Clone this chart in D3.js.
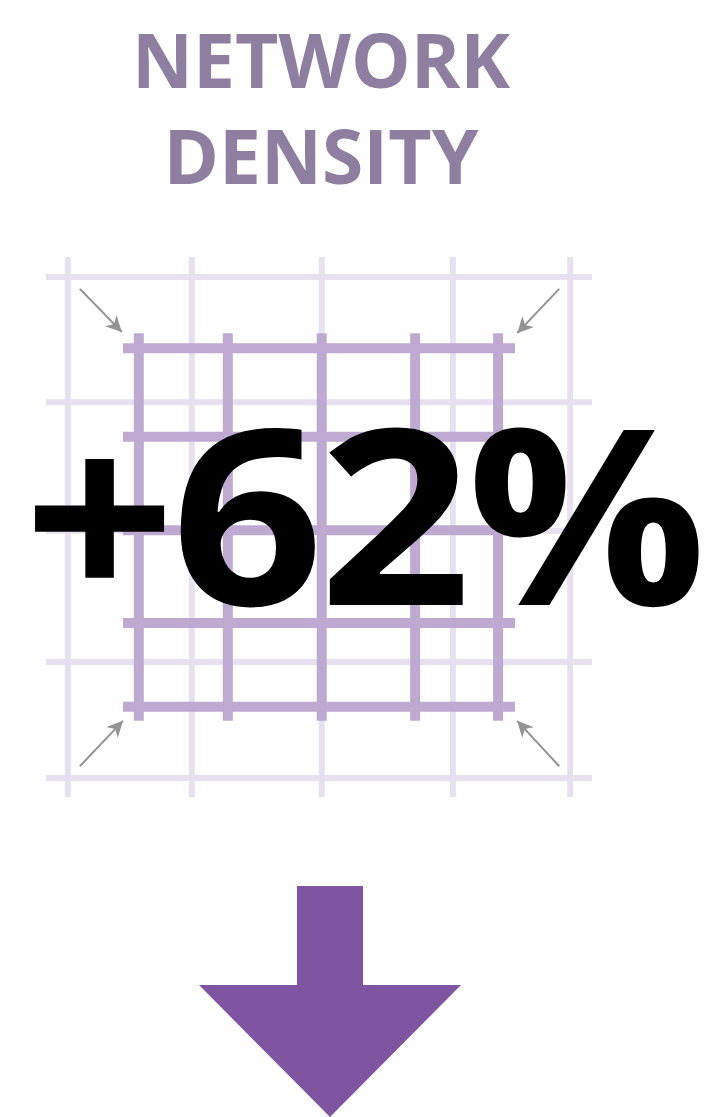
<!DOCTYPE html>
<html>
<head>
<meta charset="utf-8">
<script src="https://cdn.jsdelivr.net/npm/d3@7"></script>
<style>
  html, body { margin: 0; padding: 0; background: #fff; }
  svg { display: block; }
</style>
</head>
<body>
<script>
'use strict';

// title lines
const titleLines = ["NETWORK", "DENSITY"];
const bigLabel = "+62%";

// grid line positions, in grid units (0-100 across the panel)
const looseX = [4.0, 26.7, 50.5, 74.5, 96.0];
const looseY = [3.7, 26.9, 50.7, 75.0, 96.5];
const denseX = [17.0, 33.3, 50.5, 67.6, 82.8];
const denseY = [16.9, 33.3, 50.6, 67.8, 83.3];
const denseExtent = [14.1, 85.9];

// little "squeeze" arrows: [fromX, fromY, toX, toY] in grid units
const squeeze = [
  [6.2, 5.9, 13.9, 13.9],
  [94.0, 5.9, 86.3, 14.1],
  [6.2, 94.3, 14.1, 85.9],
  [94.0, 94.3, 86.3, 85.9]
];

(function() {
  const width = 712, height = 1117;

  const svg = d3.select('body')
    .append('svg')
    .attr('width', width)
    .attr('height', height);

  svg.append('defs').append('marker')
    .attr('id', 'head')
    .attr('viewBox', '0 0 10 10')
    .attr('refX', 10)
    .attr('refY', 5)
    .attr('markerWidth', 8)
    .attr('markerHeight', 8)
    .attr('markerUnits', 'strokeWidth')
    .attr('orient', 'auto')
    .append('path')
      .attr('d', 'M0,0 L10,5 L0,10 L3,5 Z')
      .attr('fill', '#939393');

  // title
  svg.append('g')
    .selectAll('text')
    .data(titleLines)
    .enter()
    .append('text')
      .attr('x', 321)
      .attr('y', (d, i) => 88 + i * 96)
      .attr('text-anchor', 'middle')
      .style('font-family', '"Open Sans", sans-serif')
      .style('font-weight', 700)
      .style('font-size', '75px')
      .style('fill', '#8e7fa0')
      .text(d => d);

  // grid scales
  const x = d3.scaleLinear().domain([0, 100]).range([46, 592]);
  const y = d3.scaleLinear().domain([0, 100]).range([257, 797]);

  // loose (light) grid
  const loose = svg.append('g')
    .attr('stroke', '#e6e0ef')
    .attr('stroke-width', 6);
  loose.selectAll('.lv')
    .data(looseX)
    .enter()
    .append('line')
      .attr('x1', d => x(d)).attr('x2', d => x(d))
      .attr('y1', y(0)).attr('y2', y(100));
  loose.selectAll('.lh')
    .data(looseY)
    .enter()
    .append('line')
      .attr('y1', d => y(d)).attr('y2', d => y(d))
      .attr('x1', x(0)).attr('x2', x(100));

  // dense grid
  const dense = svg.append('g')
    .attr('stroke', '#bea9d1')
    .attr('stroke-width', 10);
  dense.selectAll('.dv')
    .data(denseX)
    .enter()
    .append('line')
      .attr('x1', d => x(d)).attr('x2', d => x(d))
      .attr('y1', y(denseExtent[0])).attr('y2', y(denseExtent[1]));
  dense.selectAll('.dh')
    .data(denseY)
    .enter()
    .append('line')
      .attr('y1', d => y(d)).attr('y2', d => y(d))
      .attr('x1', x(denseExtent[0])).attr('x2', x(denseExtent[1]));

  // squeeze arrows
  svg.append('g')
    .selectAll('line')
    .data(squeeze)
    .enter()
    .append('line')
      .attr('x1', d => x(d[0])).attr('y1', d => y(d[1]))
      .attr('x2', d => x(d[2])).attr('y2', d => y(d[3]))
      .attr('stroke', '#939393')
      .attr('stroke-width', 2)
      .attr('marker-end', 'url(#head)');

  // big figure (stretched a little to match the wider original face)
  svg.append('g')
    .attr('transform', 'translate(363, 605) scale(1.086, 1)')
    .append('text')
      .attr('x', 0)
      .attr('y', 0)
      .attr('text-anchor', 'middle')
      .style('font-family', '"Open Sans", sans-serif')
      .style('font-weight', 700)
      .style('font-size', '245px')
      .style('letter-spacing', '-4px')
      .style('fill', '#000')
      .text(bigLabel);

  // down arrow
  const cx = 330;
  const arrow = d3.path();
  arrow.moveTo(cx - 33, 886);
  arrow.lineTo(cx + 33, 886);
  arrow.lineTo(cx + 33, 985);
  arrow.lineTo(cx + 131, 985);
  arrow.lineTo(cx, 1117);
  arrow.lineTo(cx - 131, 985);
  arrow.lineTo(cx - 33, 985);
  arrow.closePath();
  svg.append('path')
    .attr('d', arrow.toString())
    .attr('fill', '#7f55a1');
})();
</script>
</body>
</html>
